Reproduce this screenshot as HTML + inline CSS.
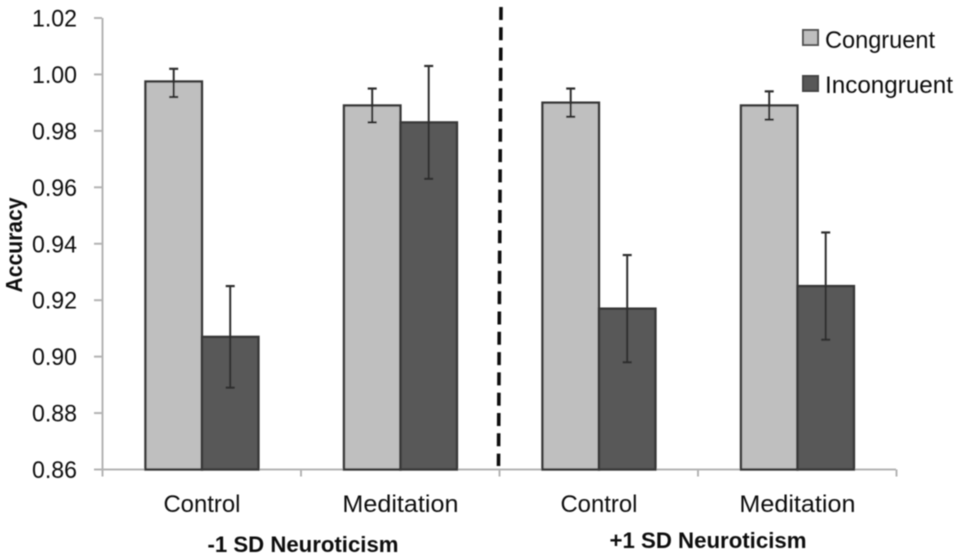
<!DOCTYPE html>
<html>
<head>
<meta charset="utf-8">
<style>
html,body{margin:0;padding:0;background:#fff;width:957px;height:560px;overflow:hidden}
svg{display:block}
text{font-family:"Liberation Sans",sans-serif;fill:#111}
</style>
</head>
<body>
<svg id="chart" width="957" height="560" viewBox="0 0 957 560" xmlns="http://www.w3.org/2000/svg">
<defs><filter id="soft" x="-5%" y="-5%" width="110%" height="110%"><feGaussianBlur stdDeviation="0.6"/></filter></defs>
<g id="root" filter="url(#soft)"></g>
</svg>
<script>
var categories = ['Control', 'Meditation', 'Control', 'Meditation'];
var groups = ['-1 SD Neuroticism', '+1 SD Neuroticism'];
var tickValues = [0.86, 0.88, 0.90, 0.92, 0.94, 0.96, 0.98, 1.00, 1.02];
var congruent = [0.9975, 0.989, 0.990, 0.989];
var congruentHigh = [1.002, 0.995, 0.995, 0.994];
var congruentLow = [0.992, 0.983, 0.985, 0.984];
var incongruent = [0.907, 0.983, 0.917, 0.925];
var incongruentHigh = [0.925, 1.003, 0.936, 0.944];
var incongruentLow = [0.889, 0.963, 0.898, 0.906];

var NS = 'http://www.w3.org/2000/svg';
var root = document.getElementById('root');
var plotLeft = 102, plotRight = 896, plotTop = 18, plotBottom = 469.5;
var catWidth = (plotRight - plotLeft) / categories.length;
var barWidth = 56.5;
function yScale(v) { return plotBottom - (v - 0.86) / (1.02 - 0.86) * (plotBottom - plotTop); }
function xCenter(i) { return plotLeft + catWidth * (i + 0.5) + 0.7; }

function make(tag, attrs, name) {
  var el = document.createElementNS(NS, tag);
  for (var k in attrs) el.setAttribute(k, attrs[k]);
  
  
  root.appendChild(el);
  return el;
}
function line(x1, y1, x2, y2, stroke, w, name) {
  return make('line', {x1: x1, y1: y1, x2: x2, y2: y2, stroke: stroke, 'stroke-width': w}, name);
}
function label(x, y, str, size, anchor, weight, len, name) {
  var t = make('text', {x: x, y: y, 'font-size': size, 'text-anchor': anchor, 'font-weight': weight, textLength: len, lengthAdjust: 'spacingAndGlyphs'}, name);
  t.textContent = str;
  return t;
}

// y axis
line(plotLeft + 0.5, plotTop, plotLeft + 0.5, plotBottom + 7, '#b4b4b4', 2, 'y-axis-line');
tickValues.forEach(function (v) {
  var y = yScale(v);
  line(plotLeft - 8, y, plotLeft, y, '#b4b4b4', 2, 'y-axis-tick');
  label(77, y + 8.5, v.toFixed(2), 24, 'end', 'normal', 45, 'y-axis-tick-label');
});

// x axis
line(plotLeft, plotBottom, plotRight, plotBottom, '#b4b4b4', 2, 'x-axis-line');
for (var t = 0; t <= categories.length; t++) {
  var tx = plotLeft + 0.5 + catWidth * t;
  line(tx, plotBottom, tx, plotBottom + 7, '#b4b4b4', 2, 'x-axis-tick');
}

// bars
function drawBar(x, value, fill, name) {
  var y = yScale(value);
  make('rect', {x: x, y: y, width: barWidth, height: plotBottom - y, fill: fill, stroke: '#383838', 'stroke-width': 2.4}, name);
}
function drawError(cx, high, low, name) {
  var yh = yScale(high), yl = yScale(low);
  line(cx, yh, cx, yl, '#2e2e2e', 2, name);
  line(cx - 4.5, yh, cx + 4.5, yh, '#2e2e2e', 2.2, name + '-cap-high');
  line(cx - 4.5, yl, cx + 4.5, yl, '#2e2e2e', 2.2, name + '-cap-low');
}
categories.forEach(function (c, i) {
  var cx = xCenter(i);
  drawBar(cx - barWidth, congruent[i], '#bfbfbf', 'bar-congruent');
  drawBar(cx, incongruent[i], '#595959', 'bar-incongruent');
  drawError(cx - barWidth / 2, congruentHigh[i], congruentLow[i], 'error-bar-congruent');
  drawError(cx + barWidth / 2, incongruentHigh[i], incongruentLow[i], 'error-bar-incongruent');
  label(cx, 512, c, 24, 'middle', 'normal', c === 'Control' ? 77 : 116, 'category-label');
});

// group labels
label(303, 552, groups[0], 22, 'middle', 'bold', 191, 'group-label-minus');
label(708, 548, groups[1], 22, 'middle', 'bold', 197, 'group-label-plus');

// y title
var yTitle = label(0, 0, 'Accuracy', 23, 'middle', 'bold', 95, 'y-axis-title');
yTitle.setAttribute('transform', 'translate(22 245) rotate(-90)');

// divider
make('line', {x1: 501, y1: 7, x2: 498.5, y2: 466, stroke: '#111', 'stroke-width': 3.6, 'stroke-dasharray': '13 7.3'}, 'group-divider-dashed-line');

// legend
make('rect', {x: 803, y: 30, width: 15, height: 15, fill: '#bfbfbf', stroke: '#555', 'stroke-width': 2}, 'legend-swatch-congruent');
label(825, 48, 'Congruent', 24, 'start', 'normal', 110, 'legend-label-congruent');
make('rect', {x: 803, y: 76, width: 15, height: 15, fill: '#595959', stroke: '#444', 'stroke-width': 2}, 'legend-swatch-incongruent');
label(825, 93, 'Incongruent', 24, 'start', 'normal', 128, 'legend-label-incongruent');
</script>
</body>
</html>
